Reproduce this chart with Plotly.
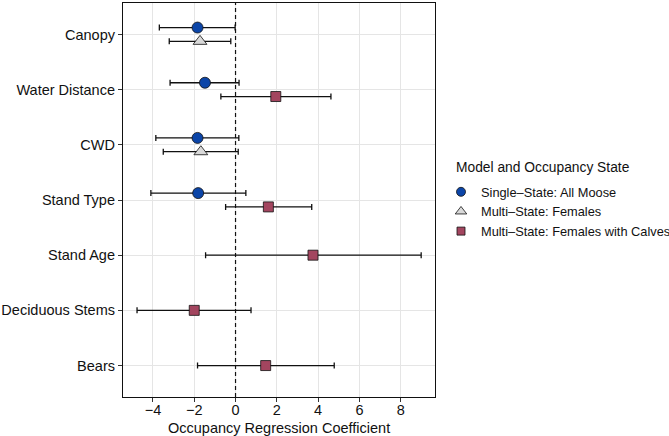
import plotly.graph_objects as go

# ---------------- data ----------------
categories = ["Canopy", "Water Distance", "CWD", "Stand Type",
              "Stand Age", "Deciduous Stems", "Bears"]

series_names = ["Single–State: All Moose",
                "Multi–State: Females",
                "Multi–State: Females with Calves"]

single_cat = ["Canopy", "Water Distance", "CWD", "Stand Type"]
single_est = [-1.84, -1.48, -1.84, -1.81]
single_lo = [-3.69, -3.17, -3.86, -4.10]
single_hi = [-0.02, 0.17, 0.16, 0.50]

fem_cat = ["Canopy", "CWD"]
fem_est = [-1.72, -1.68]
fem_lo = [-3.21, -3.50]
fem_hi = [-0.23, 0.13]

calf_cat = ["Water Distance", "Stand Type", "Stand Age", "Deciduous Stems", "Bears"]
calf_est = [1.95, 1.59, 3.75, -2.00, 1.46]
calf_lo = [-0.71, -0.48, -1.45, -4.77, -1.84]
calf_hi = [4.62, 3.69, 8.99, 0.75, 4.78]

x_ticks = [-4, -2, 0, 2, 4, 6, 8]
x_title = "Occupancy Regression Coefficient"
legend_title = "Model and Occupancy State"

# ---------------- styling ----------------
FONT = "Liberation Sans, Arial, Helvetica, sans-serif"
INK = "#111111"
series = [
    dict(name=series_names[0], cat=single_cat, est=single_est, lo=single_lo, hi=single_hi,
         symbol="circle", color="#0B45A8", size=11, lsize=9),
    dict(name=series_names[1], cat=fem_cat, est=fem_est, lo=fem_lo, hi=fem_hi,
         symbol="triangle-up", color="#D9D9D9", size=12, lsize=10),
    dict(name=series_names[2], cat=calf_cat, est=calf_est, lo=calf_lo, hi=calf_hi,
         symbol="square", color="#A3455F", size=10, lsize=8),
]

# category positions (top to bottom)
n_cat = len(categories)
cat_pos = {c: n_cat - i for i, c in enumerate(categories)}

# dodge: groups present per category
present = {c: [s["name"] for s in series if c in s["cat"]] for c in categories}
dodge_w = 0.25

def ypos(cat, name):
    members = present[cat]
    n = len(members)
    i = members.index(name)
    return cat_pos[cat] + ((n - 1) / 2 - i) * dodge_w

fig = go.Figure()
for s in series:
    ys = [ypos(c, s["name"]) for c in s["cat"]]
    fig.add_trace(go.Scatter(
        x=s["est"], y=ys, mode="markers", name=s["name"], showlegend=False,
        marker=dict(symbol=s["symbol"], size=s["size"], color=s["color"],
                    line=dict(color=INK, width=0.8)),
        error_x=dict(type="data", symmetric=False,
                     array=[h - e for h, e in zip(s["hi"], s["est"])],
                     arrayminus=[e - l for e, l in zip(s["est"], s["lo"])],
                     color=INK, thickness=1.3, width=3),
    ))
# legend-only entries (smaller key symbols, as in the reference)
for s in series:
    fig.add_trace(go.Scatter(
        x=[None], y=[None], mode="markers", name=s["name"], showlegend=True,
        marker=dict(symbol=s["symbol"], size=s["lsize"], color=s["color"],
                    line=dict(color=INK, width=0.8)),
    ))

fig.add_shape(type="line", x0=0, x1=0, xref="x", y0=0, y1=1, yref="paper",
              line=dict(color=INK, width=1.2, dash="4px,3px"), layer="above")

PL, PR, PT, PB = 123, 435, 3, 397
pw, ph = PR - PL, PB - PT

fig.update_layout(
    width=669, height=436,
    margin=dict(l=PL, r=669 - PR, t=PT, b=436 - PB, autoexpand=False),
    paper_bgcolor="white", plot_bgcolor="white",
    font=dict(family=FONT, color=INK, size=14.5),
    showlegend=True,
    legend=dict(x=(441 - PL) / pw, xanchor="left", y=(PB - 177) / ph, yanchor="top",
                font=dict(size=12.8, family=FONT, color=INK),
                bgcolor="rgba(0,0,0,0)", itemsizing="trace"),
    xaxis=dict(range=[-5.45, 9.66], tickmode="array", tickvals=x_ticks,
               ticks="outside", ticklen=4, tickcolor="#333333", tickwidth=1,
               showgrid=True, gridcolor="#E5E5E5", gridwidth=1, zeroline=False,
               showline=True, linecolor=INK, linewidth=1.2, mirror=True,
               tickfont=dict(size=14.5, color=INK), ticklabelstandoff=-5),
    yaxis=dict(range=[0.43, n_cat + 0.57], tickmode="array",
               tickvals=[cat_pos[c] for c in categories], ticktext=categories,
               ticks="outside", ticklen=4, tickcolor="#333333", tickwidth=1,
               showgrid=True, gridcolor="#E5E5E5", gridwidth=1, zeroline=False,
               showline=True, linecolor=INK, linewidth=1.2, mirror=True,
               tickfont=dict(size=14.5, color=INK)),
    annotations=[
        dict(text=legend_title, xref="paper", yref="paper",
             x=(455 - PL) / pw, y=(PB - 167) / ph, xanchor="left",
             yanchor="middle", showarrow=False, xshift=-1,
             font=dict(size=13.8, family=FONT, color=INK)),
        dict(text=x_title, xref="paper", yref="paper",
             x=0.5, y=(PB - 428) / ph, xanchor="center",
             yanchor="middle", showarrow=False,
             font=dict(size=14.5, family=FONT, color=INK)),
    ],
)

fig.write_html("out.html")
